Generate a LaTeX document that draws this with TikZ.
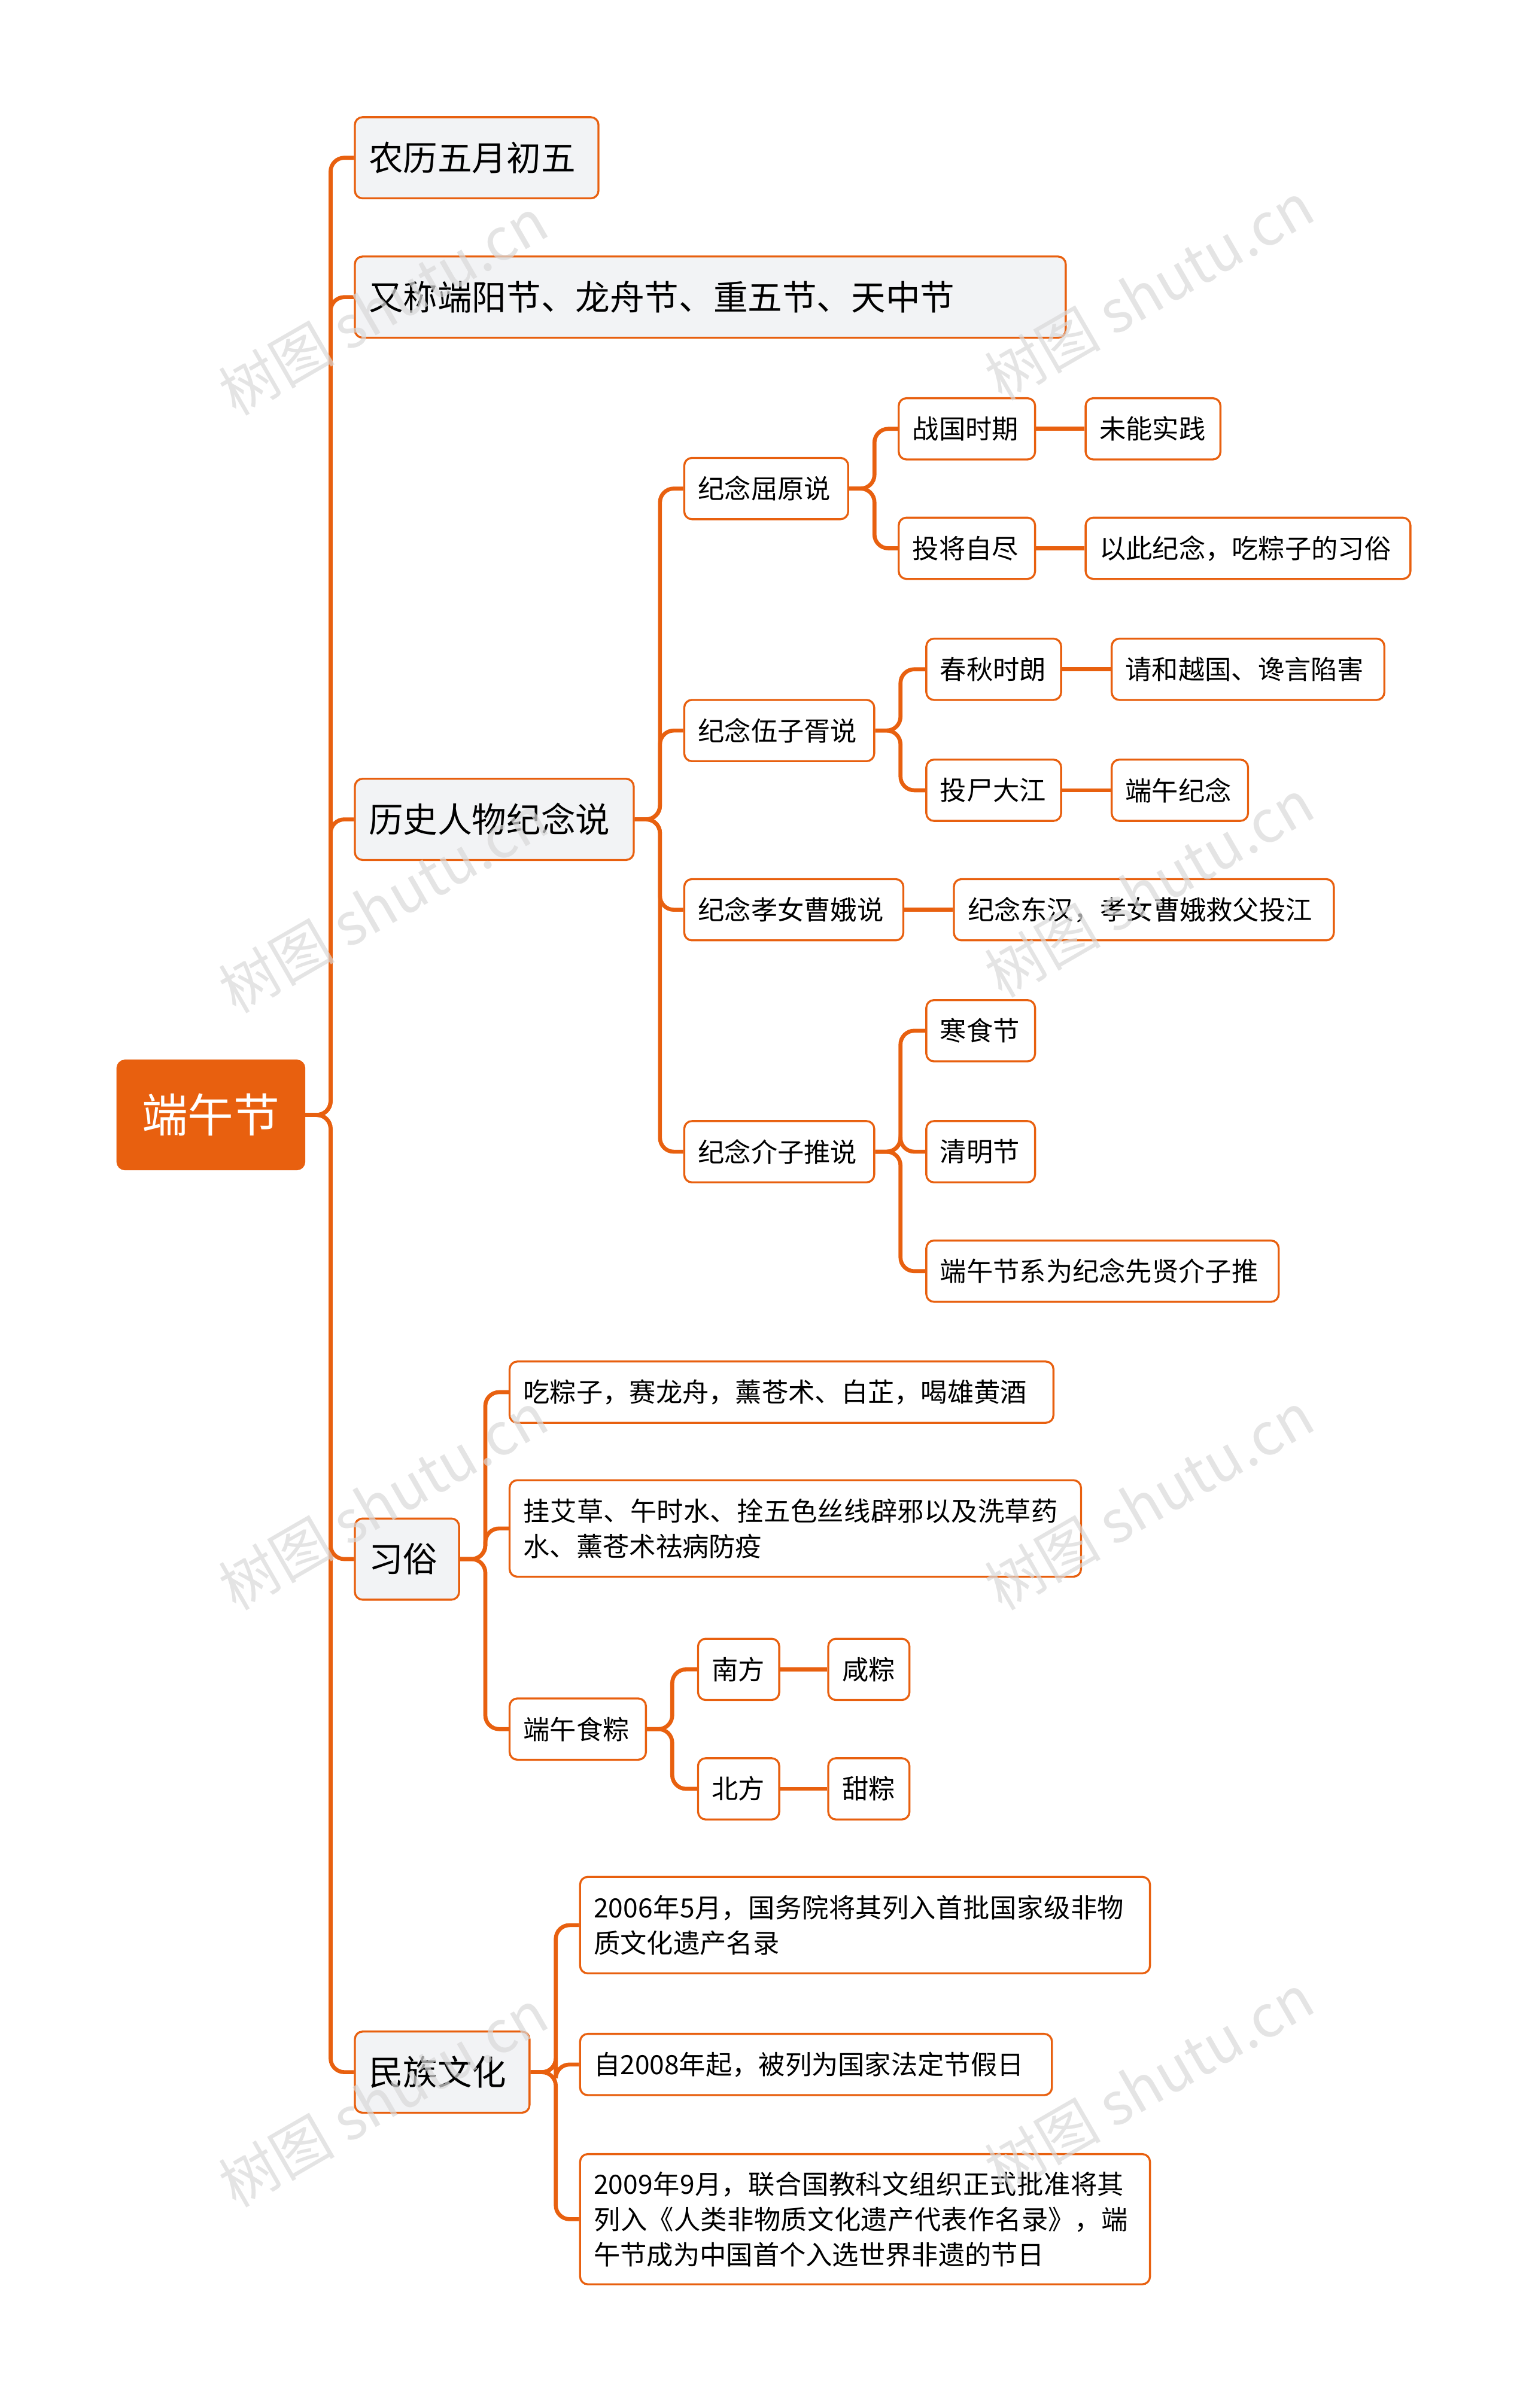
\documentclass[tikz,border=0pt]{standalone}
\usepackage{fontspec}
\setmainfont{Noto Sans CJK SC}
\XeTeXlinebreaklocale "zh"
\XeTeXlinebreakskip=0pt plus 1pt
\begin{document}
\begin{tikzpicture}[x=1pt,y=-1pt,
 cn/.style={draw=orgc,line width=2.6pt,rounded corners=9pt},
 base/.style={draw=orgc,line width=1.3pt,rounded corners=5pt,anchor=west,inner xsep=9pt,inner ysep=0pt,align=left},
 w/.style={minimum width=#1,text width=#1-18pt},
 l1/.style={base,fill=gryc,minimum height=53pt,font=\fontsize{22.5}{27}\selectfont},
 l2/.style={base,fill=white,minimum height=40pt,font=\fontsize{17.3}{23}\selectfont},
 wm/.style={text=gray!30,rotate=30,font=\fontsize{38}{40}\selectfont,opacity=0.7}]
\definecolor{orgc}{HTML}{E8600F}
\definecolor{gryc}{HTML}{F2F3F5}
\useasboundingbox (0,0) rectangle (1000,1572.3);
\newcommand\cc[2]{\draw[cn] (#1.east) -- ([xshift=16.5pt]#1.east) |- (#2.west);}
\newcommand\cs[2]{\draw[cn] (#1.east) -- (#2.west);}
% root
\node[base,fill=orgc,draw=orgc,text=white,minimum width=122pt,minimum height=71pt,font=\fontsize{30}{34}\selectfont,align=center,inner xsep=0pt] (r) at (76,728) {端午节};
% level1
\node[l1,w=159pt] (a) at (231,103) {农历五月初五};
\node[l1,w=464pt] (b) at (231,194) {又称端阳节、龙舟节、重五节、天中节};
\node[l1,w=182pt] (c) at (231,535) {历史人物纪念说};
\node[l1,w=68pt] (d) at (231,1018) {习俗};
\node[l1,w=114pt] (e) at (231,1353) {民族文化};
\foreach \n in {a,b,c,d,e}{\cc{r}{\n}}
% history
\node[l2,w=107pt] (c1) at (446,319) {纪念屈原说};
\node[l2,w=124pt] (c2) at (446,477) {纪念伍子胥说};
\node[l2,w=143pt] (c3) at (446,594) {纪念孝女曹娥说};
\node[l2,w=124pt] (c4) at (446,752) {纪念介子推说};
\foreach \n in {c1,c2,c3,c4}{\cc{c}{\n}}
\node[l2,w=89pt] (c11) at (586,280) {战国时期};
\node[l2,w=89pt] (c12) at (586,358) {投将自尽};
\cc{c1}{c11}\cc{c1}{c12}
\node[l2,w=88pt] (c111) at (708,280) {未能实践};
\node[l2,w=212pt] (c121) at (708,358) {以此纪念，吃粽子的习俗};
\cs{c11}{c111}\cs{c12}{c121}
\node[l2,w=88pt] (c21) at (604,437) {春秋时朗};
\node[l2,w=88pt] (c22) at (604,516) {投尸大江};
\cc{c2}{c21}\cc{c2}{c22}
\node[l2,w=178pt] (c211) at (725,437) {请和越国、谗言陷害};
\node[l2,w=89pt] (c221) at (725,516) {端午纪念};
\cs{c21}{c211}\cs{c22}{c221}
\node[l2,w=248pt] (c31) at (622,594) {纪念东汉，孝女曹娥救父投江};
\cs{c3}{c31}
\node[l2,w=71pt] (c41) at (604,673) {寒食节};
\node[l2,w=71pt] (c42) at (604,752) {清明节};
\node[l2,w=230pt] (c43) at (604,830) {端午节系为纪念先贤介子推};
\cc{c4}{c41}\cc{c4}{c42}\cc{c4}{c43}
% customs
\node[l2,w=355pt] (d1) at (332,909) {吃粽子，赛龙舟，薰苍术、白芷，喝雄黄酒};
\node[l2,w=373pt,minimum height=63pt] (d2) at (332,998) {挂艾草、午时水、拴五色丝线辟邪以及洗草药水、薰苍术祛病防疫};
\node[l2,w=89pt] (d3) at (332,1129) {端午食粽};
\foreach \n in {d1,d2,d3}{\cc{d}{\n}}
\node[l2,w=53pt] (d31) at (455,1090) {南方};
\node[l2,w=53pt] (d32) at (455,1168) {北方};
\cc{d3}{d31}\cc{d3}{d32}
\node[l2,w=53pt] (d311) at (540,1090) {咸粽};
\node[l2,w=53pt] (d321) at (540,1168) {甜粽};
\cs{d31}{d311}\cs{d32}{d321}
% culture
\node[l2,w=372pt,minimum height=63pt] (e1) at (378,1257) {2006年5月，国务院将其列入首批国家级非物质文化遗产名录};
\node[l2,w=308pt] (e2) at (378,1348) {自2008年起，被列为国家法定节假日};
\node[l2,w=372pt,minimum height=85pt] (e3) at (378,1449) {2009年9月，联合国教科文组织正式批准将其列入《人类非物质文化遗产代表作名录》，端午节成为中国首个入选世界非遗的节日};
\foreach \n in {e1,e2,e3}{\cc{e}{\n}}
% watermarks
\foreach \x/\y in {250/200,750/190,250/590,750/580,250/980,750/980,250/1370,750/1360}{\node[wm] at (\x,\y) {树图 shutu.cn};}
\end{tikzpicture}
\end{document}
